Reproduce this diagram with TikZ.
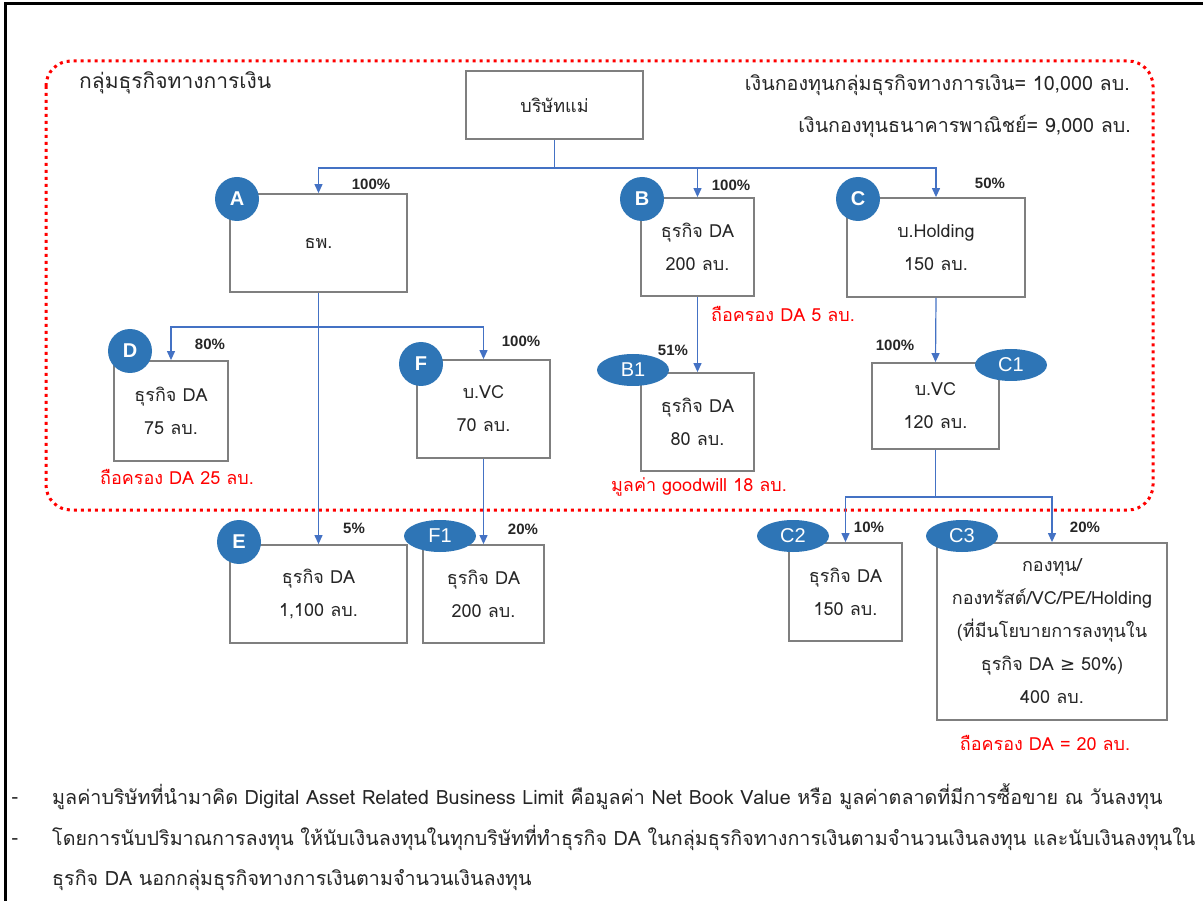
\documentclass[tikz,border=0pt]{standalone}
\usepackage{fontspec}
\usetikzlibrary{arrows.meta,shapes.geometric}
\newfontfamily\thaifont[Script=Thai]{Loma}
\newfontfamily\pctfont{Liberation Sans}
\newfontfamily\symfont{DejaVu Sans}
\definecolor{linkblue}{HTML}{4472C4}
\definecolor{badgeblue}{HTML}{2E75B6}
\definecolor{boxgray}{HTML}{7F7F7F}
\definecolor{inkgray}{HTML}{262626}

\begin{document}
\begin{tikzpicture}[x=1pt,y=-1pt,
  box node/.style={rectangle,draw=boxgray,line width=1.8pt,fill=white,align=center,inner sep=0pt,text=inkgray,font=\thaifont\fontsize{18}{33}\selectfont},
  circ node/.style={circle,fill=badgeblue,text=white,minimum size=44pt,inner sep=0pt,font=\pctfont\fontsize{20}{20}\selectfont\bfseries},
  oval node/.style={ellipse,fill=badgeblue,text=white,minimum width=72pt,minimum height=32pt,inner sep=0pt,font=\pctfont\fontsize{20}{20}\selectfont},
  pct node/.style={inner sep=0pt,text=inkgray,font=\pctfont\fontsize{15}{15}\selectfont\bfseries},
  note node/.style={inner sep=0pt,text=red,font=\thaifont\fontsize{18}{18}\selectfont},
  head node/.style={inner sep=0pt,text=inkgray,font=\thaifont\fontsize{19.7}{19.7}\selectfont},
  link/.style={draw=linkblue,line width=1.2pt,-{Triangle[length=9pt,width=8pt]}}]
\useasboundingbox (0,0) rectangle (1203,901);
\draw[line width=3pt] (5,901) -- (5,4) -- (1203,4);
% financial group
\draw[red,line width=3pt,dash pattern=on 3pt off 4pt,rounded corners=25pt] (46,61) rectangle (1153,510);
\node[head node,anchor=west,font=\thaifont\fontsize{21}{21}\selectfont] (title) at (79,83) {กลุ่มธุรกิจทางการเงิน};
\node[head node,anchor=east] (capA) at (1130,85) {เงินกองทุนกลุ่มธุรกิจทางการเงิน= 10,000 ลบ.};
\node[head node,anchor=east] (capB) at (1131,126) {เงินกองทุนธนาคารพาณิชย์= 9,000 ลบ.};

% companies
\node[box node,minimum width=177pt,minimum height=68pt] (parent) at (554.5,105) {บริษัทแม่};
\node[box node,minimum width=177pt,minimum height=98pt] (bank) at (318.5,243) {ธพ.};
\node[box node,minimum width=113pt,minimum height=98pt] (daB) at (697.5,247) {ธุรกิจ DA\\200 ลบ.};
\node[box node,minimum width=178pt,minimum height=99pt] (hold) at (936,247.5) {บ.Holding\\150 ลบ.};
\node[box node,minimum width=114pt,minimum height=100pt] (daD) at (171,411) {ธุรกิจ DA\\75 ลบ.};
\node[box node,minimum width=133pt,minimum height=98pt] (vcF) at (483.5,409) {บ.VC\\70 ลบ.};
\node[box node,minimum width=113pt,minimum height=98pt] (daB1) at (697.5,422) {ธุรกิจ DA\\80 ลบ.};
\node[box node,minimum width=127pt,minimum height=86pt] (vcC1) at (935.5,406) {บ.VC\\120 ลบ.};
\node[box node,minimum width=177pt,minimum height=98pt] (daE) at (318.5,594) {ธุรกิจ DA\\1,100 ลบ.};
\node[box node,minimum width=121pt,minimum height=98pt] (daF1) at (483.5,594) {ธุรกิจ DA\\200 ลบ.};
\node[box node,minimum width=113pt,minimum height=98pt] (daC2) at (845.5,592) {ธุรกิจ DA\\150 ลบ.};
\node[box node,minimum width=230pt,minimum height=177pt] (fundC3) at (1052,631.5) {กองทุน/\\กองทรัสต์/VC/PE/Holding\\(ที่มีนโยบายการลงทุนใน\\ธุรกิจ DA {\symfont ≥} 50\%)\\400 ลบ.};

% holdings
\coordinate (pj) at (554.5,168);
\coordinate (aj) at (318.5,327);
\coordinate (cj) at (935.5,497);
\draw[link] (parent.south) -- (pj) -| (bank.north);
\draw[link] (pj) -| (daB.north);
\draw[link] (pj) -| (hold.north);
\draw[link] (bank.south) -- (daE.north);
\draw[link] (aj) -| (daD.north);
\draw[link] (aj) -| (vcF.north);
\draw[link] (vcF.south) -- (daF1.north);
\draw[link] (daB.south) -- (daB1.north);
\draw[link] (hold.south) -- (vcC1.north);
\draw[link] (vcC1.south) -- (cj) -| (daC2.north);
\draw[link] (cj) -| (fundC3.north);

\node[pct node] (pA) at (371,184) {100\%};
\node[pct node] (pB) at (731,185) {100\%};
\node[pct node] (pC) at (990,183) {50\%};
\node[pct node] (pD) at (210,344) {80\%};
\node[pct node] (pF) at (521,341) {100\%};
\node[pct node] (pB1) at (673,350) {51\%};
\node[pct node] (pC1) at (895,345) {100\%};
\node[pct node] (pE) at (354,528) {5\%};
\node[pct node] (pF1) at (523,529) {20\%};
\node[pct node] (pC2) at (869,527) {10\%};
\node[pct node] (pC3) at (1085,527) {20\%};

\node[circ node] (bA) at (237,199) {A};
\node[circ node] (bB) at (642,199) {B};
\node[circ node] (bC) at (858,199) {C};
\node[circ node] (bD) at (130,351) {D};
\node[circ node] (bF) at (421,364) {F};
\node[circ node] (bE) at (239,542) {E};
\node[oval node] (bB1) at (633,370) {B1};
\node[oval node] (bC1) at (1011,365) {C1};
\node[oval node] (bF1) at (440,536) {F1};
\node[oval node] (bC2) at (793,536) {C2};
\node[oval node] (bC3) at (962,536) {C3};

\node[note node,anchor=west] (nB) at (711,314) {ถือครอง DA 5 ลบ.};
\node[note node] (nD) at (177,477) {ถือครอง DA 25 ลบ.};
\node[note node] (nB1) at (699,487) {มูลค่า goodwill 18 ลบ.};
\node[note node] (nC3) at (1045,743) {ถือครอง DA = 20 ลบ.};

% notes below
\node[head node] (dash1) at (15,801) {-};
\node[head node] (dash2) at (15,842) {-};
\node[head node,anchor=west] (foot1) at (52,797) {มูลค่าบริษัทที่นำมาคิด Digital Asset Related Business Limit คือมูลค่า Net Book Value หรือ มูลค่าตลาดที่มีการซื้อขาย ณ วันลงทุน};
\node[head node,anchor=west] (foot2) at (52,838) {โดยการนับปริมาณการลงทุน ให้นับเงินลงทุนในทุกบริษัทที่ทำธุรกิจ DA ในกลุ่มธุรกิจทางการเงินตามจำนวนเงินลงทุน และนับเงินลงทุนใน};
\node[head node,anchor=west] (foot3) at (52,880) {ธุรกิจ DA นอกกลุ่มธุรกิจทางการเงินตามจำนวนเงินลงทุน};
\end{tikzpicture}
\end{document}
